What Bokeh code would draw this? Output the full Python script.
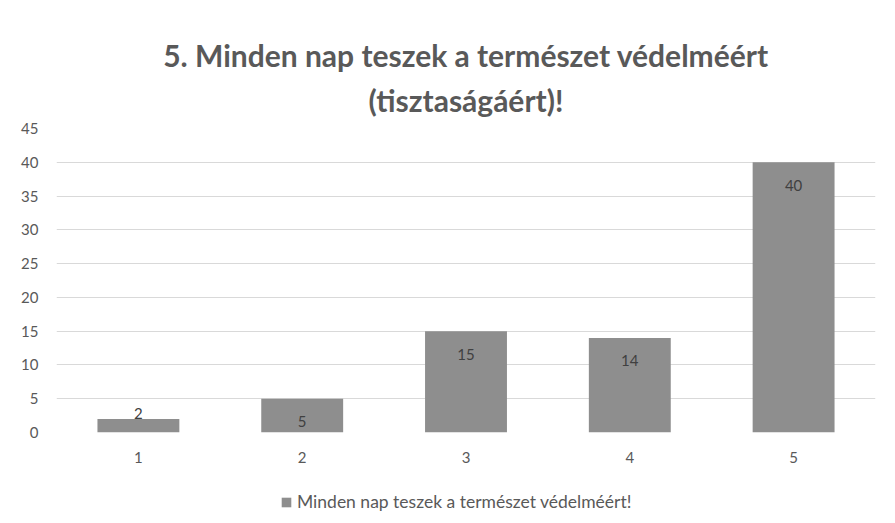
from bokeh.plotting import figure
from bokeh.models import ColumnDataSource, Legend, LegendItem, FixedTicker, Title
from bokeh.layouts import column
from bokeh.core.properties import value
from bokeh.embed import file_html
from bokeh.resources import INLINE

categories = ["1", "2", "3", "4", "5"]
counts = [2, 5, 15, 14, 40]
y_ticks = [0, 5, 10, 15, 20, 25, 30, 35, 40, 45]
title_line1 = "5. Minden nap teszek a természet védelméért"
title_line2 = "(tisztaságáért)!"
series_name = "Minden nap teszek a természet védelméért!"

FONT = "Lato"
TXT = "#595959"
BAR = "#8e8e8e"
GRID = "#d9d9d9"

PX_PER_UNIT = 304 / 45.0
offsets = [23 if v * PX_PER_UNIT > 30 else -5 for v in counts]

src = ColumnDataSource(dict(cat=categories, val=counts,
                            lab=[str(v) for v in counts], off=offsets))

p = figure(x_range=categories, y_range=(0, 45), width=880, height=479,
           output_backend="svg", toolbar_location=None,
           min_border_left=56, min_border_right=5, min_border_top=128,
           min_border_bottom=47)

p.title.text = title_line1
p.title.align = "center"
p.title.vertical_align = "top"
p.title.text_font = FONT
p.title.text_font_size = "30px"
p.title.text_font_style = "bold"
p.title.text_color = TXT
p.title.standoff = -5
p.add_layout(Title(text=title_line2, align="center", vertical_align="top",
                   text_font=FONT, text_font_size="30px",
                   text_font_style="bold", text_color=TXT, standoff=18),
             "above")
# invisible spacer between the plot area and the second title line
p.add_layout(Title(text=".", align="center", text_font_size="1px",
                   text_alpha=0, standoff=12), "above")

r = p.vbar(x="cat", top="val", width=0.5, source=src, fill_color=BAR,
           line_color=None)
p.text(x="cat", y="val", text="lab", y_offset="off", source=src,
       text_align="center", text_baseline="middle", text_font=value(FONT),
       text_font_size="15px", text_color="#404040")

p.outline_line_color = None
p.xgrid.grid_line_color = None
p.ygrid.grid_line_color = GRID
p.ygrid.ticker = FixedTicker(ticks=y_ticks)
p.yaxis.ticker = FixedTicker(ticks=y_ticks)

for ax in (p.xaxis, p.yaxis):
    ax.axis_line_color = None
    ax.major_tick_line_color = None
    ax.minor_tick_line_color = None
    ax.major_label_text_font = FONT
    ax.major_label_text_font_size = "15px"
    ax.major_label_text_color = TXT
p.yaxis.major_label_standoff = 12
p.xaxis.major_label_standoff = 13

# legend row, drawn in a slim companion figure under the chart
p2 = figure(x_range=(0, 1), y_range=(0, 1), width=880, height=42,
            output_backend="svg", toolbar_location=None,
            min_border=0)
p2.axis.visible = False
p2.grid.visible = False
p2.outline_line_color = None
proxy = p2.vbar(x="cat", top="val", width=0.5, source=src, fill_color=BAR,
                line_color=None, visible=False)
legend = Legend(items=[LegendItem(label=series_name, renderers=[proxy])],
                orientation="horizontal", location=(224, 9),
                border_line_color=None, background_fill_alpha=0,
                inactive_fill_alpha=0,
                label_text_font=FONT, label_text_font_size="17.5px",
                label_text_color=TXT, glyph_width=12, glyph_height=12,
                label_standoff=5, padding=4, margin=0)
p2.add_layout(legend, "center")

open("out.html", "w").write(file_html(column(p, p2, spacing=0), INLINE))
